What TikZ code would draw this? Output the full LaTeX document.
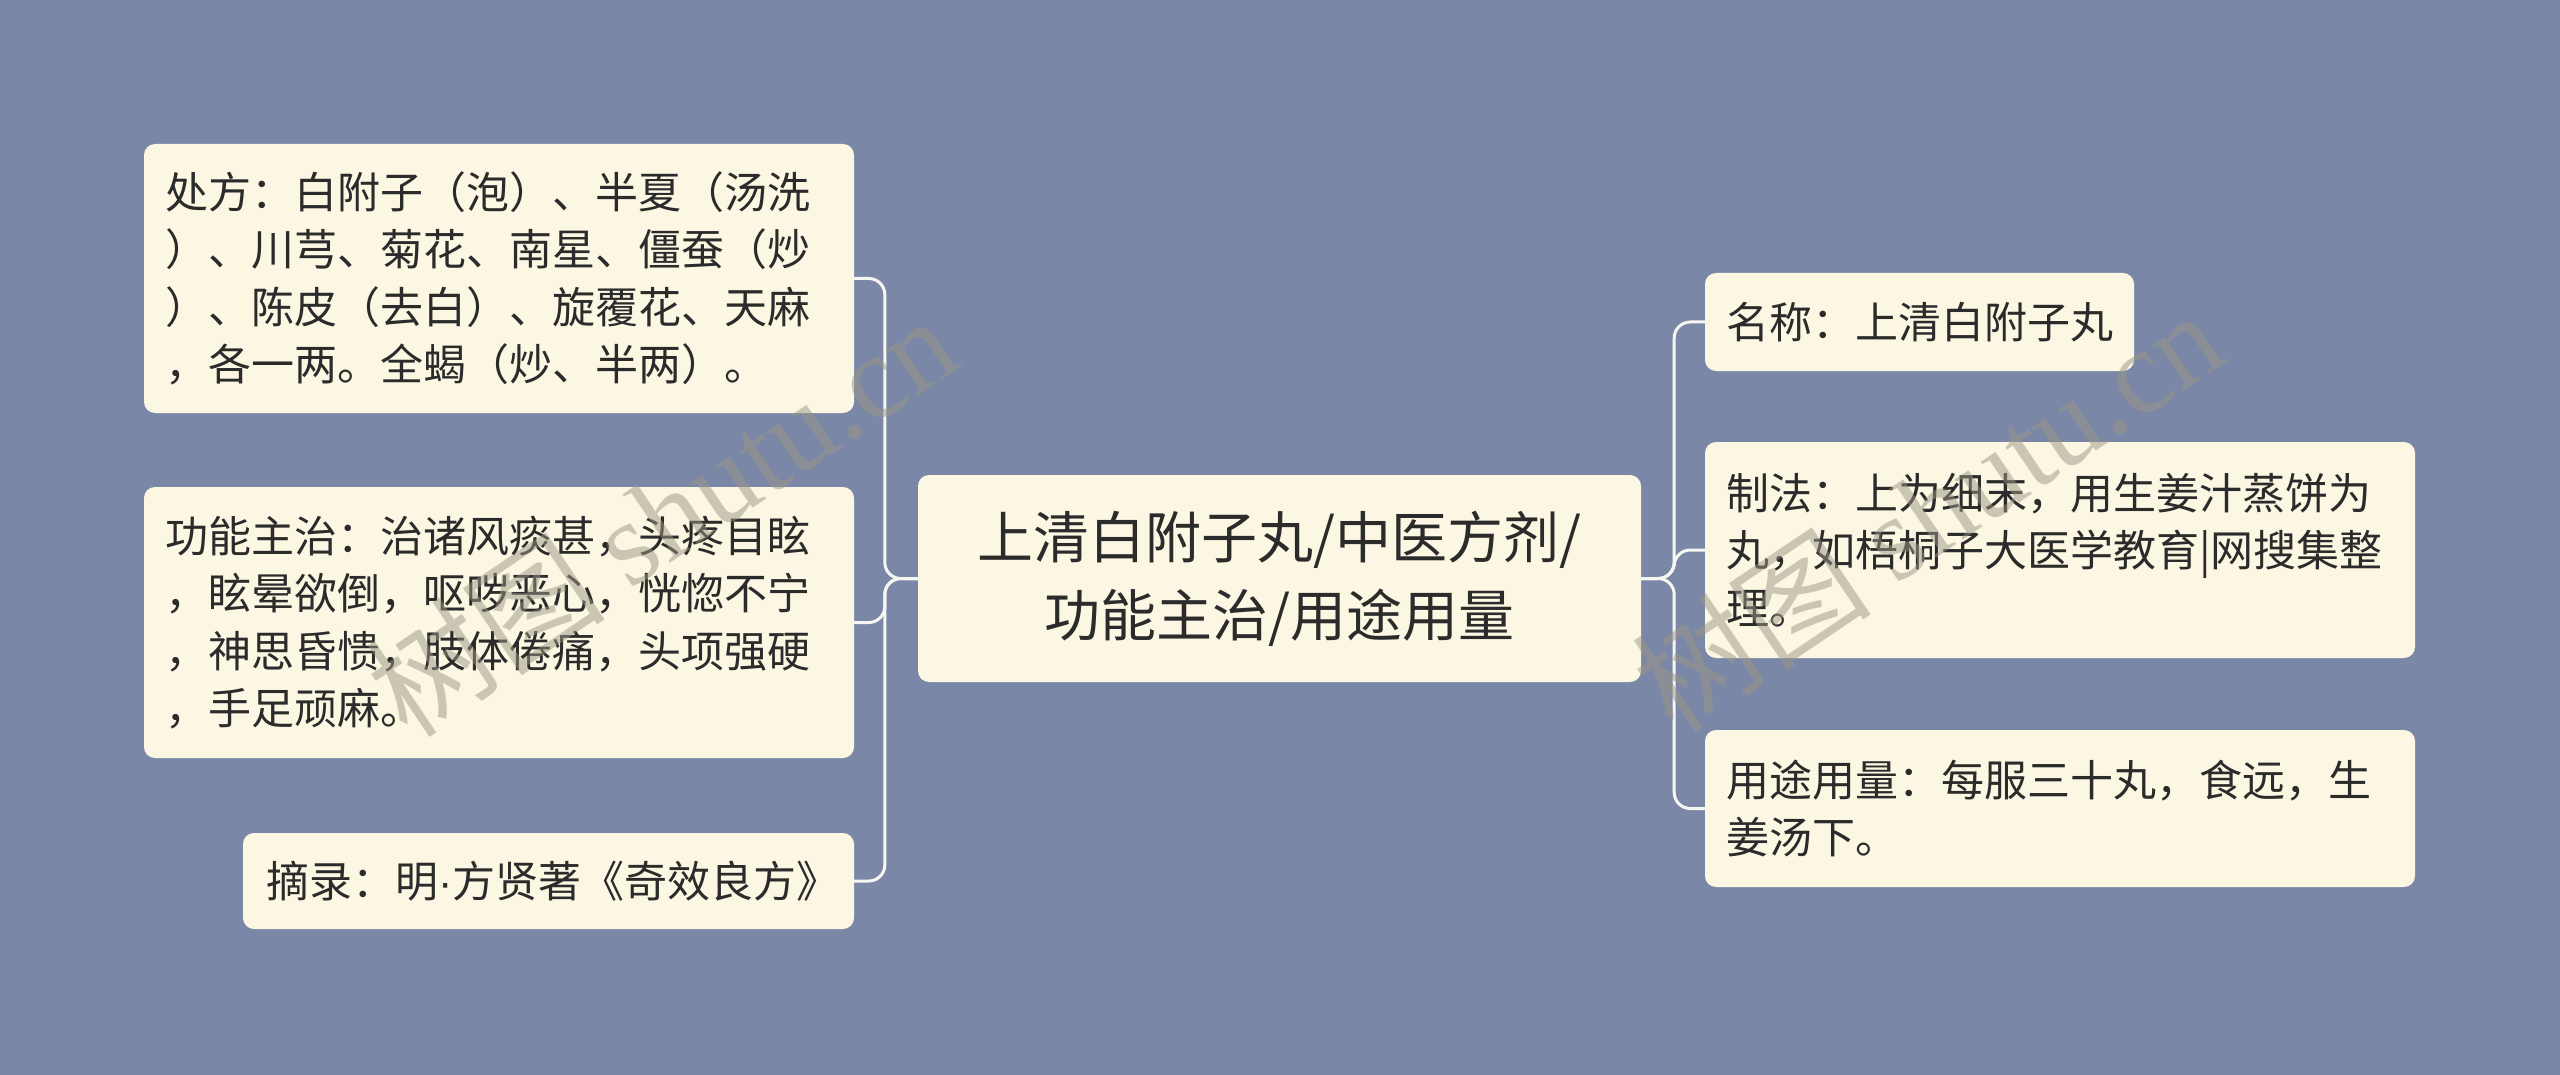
\documentclass[tikz,border=0pt]{standalone}
\usepackage{fontspec}
\setmainfont{Noto Sans CJK SC}
\newfontfamily\cjk{Noto Sans CJK SC}
\newfontfamily\wmlatin{Liberation Serif}
\newfontfamily\dotfont{Liberation Sans}
\definecolor{bgc}{HTML}{7A87A7}
\definecolor{nodefill}{HTML}{FBF7E3}
\definecolor{txt}{HTML}{2B2B2B}
\definecolor{linec}{HTML}{F7F7F2}
\definecolor{wmc}{HTML}{9C9784}
\begin{document}
\begin{tikzpicture}[x=1pt,y=-1pt,
  box/.style={draw=none,fill=nodefill,rounded corners=11pt,inner sep=0pt,
    text=txt,font=\cjk\fontsize{43}{57.5}\selectfont,align=left},
  centerbox/.style={box,font=\cjk\fontsize{56}{78}\selectfont,align=center},
  conn/.style={draw=linec,line width=3pt,rounded corners=16pt},
  wm/.style={text=wmc,opacity=0.5,rotate=34,font=\fontsize{120}{126}\selectfont}]
\fill[bgc] (0,0) rectangle (2560,1075);
\useasboundingbox (0,0) rectangle (2560,1075);

% nodes
\node[box,minimum width=710pt,minimum height=269pt,text width=668pt] (P) at (499,278.5)
 {处方：白附子（泡）、半夏（汤洗\\）、川芎、菊花、南星、僵蚕（炒\\）、陈皮（去白）、旋覆花、天麻\\，各一两。全蝎（炒、半两）。};
\node[box,minimum width=710pt,minimum height=271pt,text width=668pt] (G) at (499,622.5)
 {功能主治：治诸风痰甚，头疼目眩\\，眩晕欲倒，呕哕恶心，恍惚不宁\\，神思昏愦，肢体倦痛，头项强硬\\，手足顽麻。};
\node[box,minimum width=611pt,minimum height=96pt,text width=565pt] (Z) at (548.5,881)
 {摘录：明{\dotfont ·}方贤著《奇效良方》};
\node[centerbox,minimum width=723pt,minimum height=207pt,text width=690pt] (C) at (1279.5,578.5)
 {上清白附子丸/中医方剂/\\功能主治/用途用量};
\node[box,minimum width=429pt,minimum height=98pt,text width=387pt] (N) at (1919.5,322)
 {名称：上清白附子丸};
\node[box,minimum width=710pt,minimum height=216pt,text width=668pt] (M) at (2060,550)
 {制法：上为细末，用生姜汁蒸饼为\\丸，如梧桐子大医学教育|网搜集整\\理。};
\node[box,minimum width=710pt,minimum height=157pt,text width=668pt] (U) at (2060,808.5)
 {用途用量：每服三十丸，食远，生\\姜汤下。};

% connectors
\draw[conn] (C.west) -- ++(-33,0) |- (P.east);
\draw[conn] (C.west) -- ++(-33,0) |- (G.east);
\draw[conn] (C.west) -- ++(-33,0) |- (Z.east);
\draw[conn] (C.east) -- ++(33,0) |- (N.west);
\draw[conn] (C.east) -- ++(33,0) |- (M.west);
\draw[conn] (C.east) -- ++(33,0) |- (U.west);

% watermarks
\node[wm] (W1) at (661,515) {{\cjk 树图} {\wmlatin shutu.cn}};
\node[wm] (W2) at (1927,510) {{\cjk 树图} {\wmlatin shutu.cn}};
\end{tikzpicture}
\end{document}
